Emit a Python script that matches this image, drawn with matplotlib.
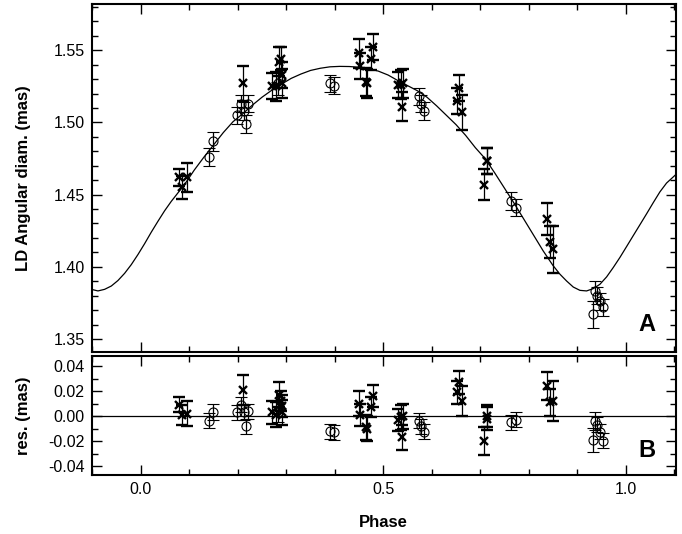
import numpy as np
import matplotlib
matplotlib.use('Agg')
import matplotlib.pyplot as plt
from matplotlib.ticker import MultipleLocator

# Interferometric points, "x" markers (phase, LD diameter, error, residual)
phase_x = [0.079, 0.084, 0.094, 0.210, 0.270, 0.278, 0.285, 0.288, 0.290, 0.292,
           0.450, 0.453, 0.464, 0.467, 0.475, 0.478, 0.531, 0.536, 0.540, 0.539,
           0.653, 0.656, 0.663, 0.708, 0.713, 0.715, 0.837, 0.844, 0.851]
diam_x = [1.462, 1.455, 1.462, 1.527, 1.525, 1.525, 1.542, 1.544, 1.533, 1.527,
          1.548, 1.539, 1.528, 1.527, 1.544, 1.552, 1.526, 1.526, 1.527, 1.511,
          1.515, 1.524, 1.507, 1.457, 1.473, 1.473, 1.433, 1.417, 1.412]
err_x = [0.006, 0.008, 0.010, 0.012, 0.009, 0.010, 0.010, 0.008, 0.009, 0.010,
         0.010, 0.009, 0.010, 0.010, 0.008, 0.009, 0.009, 0.010, 0.010, 0.010,
         0.009, 0.009, 0.012, 0.011, 0.009, 0.009, 0.011, 0.011, 0.016]
res_x = [0.009, 0.001, 0.002, 0.021, 0.003, 0.001, 0.017, 0.012, 0.008, 0.003,
         0.010, 0.001, -0.009, -0.010, 0.007, 0.016, -0.003, -0.001, 0.000, -0.017,
         0.019, 0.027, 0.012, -0.020, 0.000, -0.002, 0.024, 0.011, 0.012]

# Interferometric points, open circles
phase_o = [0.1395, 0.1485, 0.199, 0.2056, 0.2125, 0.216, 0.2215, 0.283, 0.390, 0.398,
           0.5736, 0.5777, 0.5839, 0.7634, 0.7737, 0.933, 0.9367, 0.9415, 0.947, 0.9525]
diam_o = [1.476, 1.487, 1.505, 1.513, 1.508, 1.499, 1.513, 1.527, 1.527, 1.5255,
          1.518, 1.513, 1.508, 1.4456, 1.441, 1.367, 1.383, 1.380, 1.376, 1.372]
err_o = [0.006, 0.0065, 0.006, 0.006, 0.006, 0.006, 0.006, 0.008, 0.006, 0.006,
         0.006, 0.006, 0.006, 0.006, 0.006, 0.0095, 0.007, 0.006, 0.006, 0.006]
res_o = [-0.0035, 0.0035, 0.003, 0.009, 0.003, -0.008, 0.004, 0.003, -0.012, -0.013,
         -0.0035, -0.008, -0.0125, -0.005, -0.003, -0.019, -0.004, -0.007, -0.0125, -0.0195]

# Model curve
model_phase = [-0.1025, -0.0887, -0.075, -0.0612, -0.0475, -0.0337, -0.020, -0.0062,
               0.0075, 0.0213, 0.035, 0.0488, 0.0625, 0.0763, 0.090, 0.110, 0.130,
               0.150, 0.170, 0.190, 0.210, 0.230, 0.250, 0.270, 0.290, 0.310, 0.330,
               0.350, 0.370, 0.390, 0.410, 0.430, 0.450, 0.470, 0.490, 0.510, 0.530,
               0.550, 0.570, 0.590, 0.610, 0.630, 0.650, 0.670, 0.690, 0.710, 0.730,
               0.750, 0.770, 0.790, 0.810, 0.830, 0.850, 0.8645, 0.8782, 0.892,
               0.9058, 0.9195, 0.9333, 0.947, 0.9608, 0.9745, 0.9883, 1.002, 1.0158,
               1.0295, 1.0433, 1.057, 1.0708, 1.0845, 1.104]
model_diam = [1.3844, 1.3833, 1.3844, 1.3867, 1.3905, 1.3955, 1.4015, 1.4085,
              1.4160, 1.4240, 1.4315, 1.4388, 1.4453, 1.4512, 1.4570, 1.4670, 1.4760,
              1.4845, 1.4930, 1.5005, 1.5060, 1.5120, 1.5175, 1.5223, 1.5265, 1.5305, 1.5335,
              1.5360, 1.5375, 1.5385, 1.5388, 1.5387, 1.5382, 1.5373, 1.5355, 1.5328, 1.5290,
              1.5255, 1.5220, 1.5175, 1.5115, 1.5050, 1.4985, 1.4910, 1.4825, 1.4750, 1.4650,
              1.4545, 1.4440, 1.4330, 1.4220, 1.4110, 1.4010, 1.3949, 1.3902, 1.3860,
              1.3837, 1.3833, 1.3849, 1.3879, 1.3930, 1.3995, 1.4065, 1.4140, 1.4216,
              1.4291, 1.4367, 1.4444, 1.4519, 1.4580, 1.4640]


def style_axis(ax):
    ax.set_xlim(-0.102, 1.104)
    ax.xaxis.set_major_locator(MultipleLocator(0.5))
    ax.xaxis.set_minor_locator(MultipleLocator(0.1))
    ax.tick_params(which='both', direction='in', top=True, right=True,
                   width=1.0, labelsize=11.5, pad=5)
    ax.tick_params(which='major', length=7)
    ax.tick_params(which='minor', length=4)
    for sp in ax.spines.values():
        sp.set_linewidth(1.5)


def draw_points(ax, px, py, pe, po, oy, oe):
    # crosses
    ax.errorbar(px, py, yerr=pe, fmt='x', color='black', ms=6, mew=1.7,
                elinewidth=0.9, capsize=4.5, capthick=0.9)
    # open circles
    ax.errorbar(po, oy, yerr=oe, fmt='o', color='black', mfc='none', ms=6.5, mew=0.8,
                elinewidth=0.9, capsize=4.5, capthick=0.9)


def make_plot():
    plt.rcParams['font.family'] = ['Liberation Sans', 'DejaVu Sans']
    fig = plt.figure(figsize=(6.82, 5.34), dpi=100)
    ax1 = fig.add_axes([0.1342, 0.3408, 0.857, 0.6517])
    ax2 = fig.add_axes([0.1342, 0.1105, 0.857, 0.2228])

    # panel A: diameters and model
    ax1.plot(model_phase, model_diam, color='black', lw=0.9)
    draw_points(ax1, phase_x, diam_x, err_x, phase_o, diam_o, err_o)
    style_axis(ax1)
    ax1.set_ylim(1.341, 1.582)
    ax1.yaxis.set_major_locator(MultipleLocator(0.05))
    ax1.yaxis.set_minor_locator(MultipleLocator(0.01))
    ax1.yaxis.set_major_formatter(plt.FormatStrFormatter('%.2f'))
    ax1.tick_params(labelbottom=False)
    ax1.set_ylabel('LD Angular diam. (mas)', fontsize=12, fontweight='bold')
    ax1.yaxis.set_label_coords(-0.103, 0.5)
    ax1.text(0.95, 0.078, 'A', transform=ax1.transAxes, fontsize=17,
             fontweight='bold', ha='center', va='center')

    # panel B: residuals
    ax2.axhline(0.0, color='black', lw=0.9)
    draw_points(ax2, phase_x, res_x, err_x, phase_o, res_o, err_o)
    style_axis(ax2)
    ax2.set_ylim(-0.047, 0.048)
    ax2.yaxis.set_major_locator(MultipleLocator(0.02))
    ax2.yaxis.set_minor_locator(MultipleLocator(0.01))
    ax2.yaxis.set_major_formatter(plt.FormatStrFormatter('%.2f'))
    ax2.set_ylabel('res. (mas)', fontsize=12, fontweight='bold')
    ax2.yaxis.set_label_coords(-0.103, 0.5)
    ax2.set_xlabel('Phase', fontsize=12, fontweight='bold')
    ax2.xaxis.set_label_coords(0.5, -0.34)
    ax2.text(0.95, 0.21, 'B', transform=ax2.transAxes, fontsize=17,
             fontweight='bold', ha='center', va='center')

    fig.savefig('out.png', dpi=100)


if __name__ == "__main__":
    make_plot()
